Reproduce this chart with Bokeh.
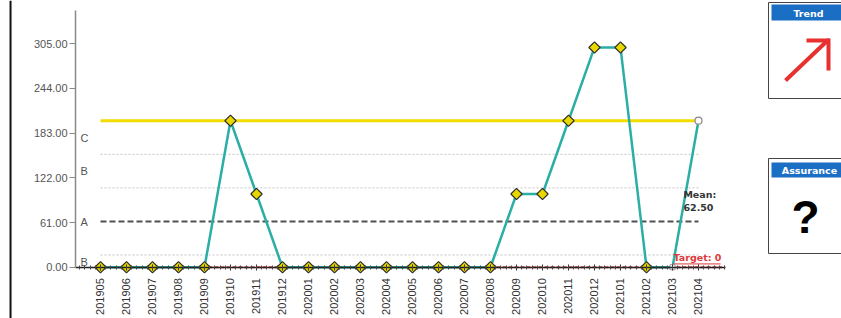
import numpy as np
from bokeh.plotting import figure
from bokeh.models import Range1d, FixedTicker, PrintfTickFormatter, ColumnDataSource, Span
from bokeh.layouts import row
from bokeh.core.properties import value
from bokeh.embed import file_html
from bokeh.resources import INLINE

# ---- data ----
months = ["201905", "201906", "201907", "201908", "201909", "201910", "201911", "201912",
          "202001", "202002", "202003", "202004", "202005", "202006", "202007", "202008",
          "202009", "202010", "202011", "202012", "202101", "202102", "202103", "202104"]
values = [0, 0, 0, 0, 0, 200, 100, 0,
          0, 0, 0, 0, 0, 0, 0, 0,
          100, 100, 200, 300, 300, 0, 0, 200]
y_ticks = [0, 61, 122, 183, 244, 305]
mean_value = 62.50
upper_limit = 200.0
sigma_lines = [154.17, 108.33, 16.67]
target_value = 0
zone_labels = ["C", "B", "A", "B"]
zone_label_values = [177, 131, 62, 7]

x = list(range(len(months)))
x_first, x_last = x[0], x[-1]

# ---- main chart ----
p = figure(width=760, height=318,
           x_range=Range1d(-3.846, 25.385), y_range=Range1d(-70.0, 364.1),
           output_backend="svg", toolbar_location=None, min_border=0)
p.outline_line_color = None
p.grid.visible = False
p.background_fill_color = "white"
p.border_fill_color = "white"

# left frame edge
p.add_layout(Span(location=-3.46, dimension="height", line_color="#111111", line_width=2))

# sigma (dotted) lines
for sv in sigma_lines:
    p.line([x_first, x_last], [sv, sv], line_color="#c4c4c4", line_width=1, line_dash="2 2")
# mean line
p.line([x_first, x_last], [mean_value, mean_value], line_color="#505050", line_width=2, line_dash="6 3")
# upper limit line
p.line([x_first, x_last], [upper_limit, upper_limit], line_color="#f2dc00", line_width=3)
# target line
p.line([x_first, x_last + 0.9], [target_value, target_value], line_color="#e0383a", line_width=2, line_dash="4 2")

src = ColumnDataSource(dict(x=x, y=values))
p.line("x", "y", source=src, line_color="#2aaea5", line_width=2.5)

main_idx = list(range(len(values) - 2))
src_d = ColumnDataSource(dict(x=[x[i] for i in main_idx], y=[values[i] for i in main_idx]))
p.scatter("x", "y", source=src_d, marker="square", angle=np.pi / 4, size=8, fill_color="#e8d800",
          line_color="#2e2e2e", line_width=1.2)
p.scatter([x[-2]], [values[-2]], marker="square", size=5, fill_color="white", line_color="#9a9a9a")
p.scatter([x[-1]], [values[-1]], marker="circle", size=7, fill_color="white", line_color="#8a8a8a", line_width=1.2)

# zone labels
p.text([-0.77] * len(zone_labels), zone_label_values, text=zone_labels,
       text_font=value("Liberation Sans"), text_font_size="11px", text_color="#555555",
       text_baseline="middle", text_align="left")

# mean label
p.text([22.42], [90], text=[f"Mean:\n{mean_value:.2f}"], text_font=value("DejaVu Sans"),
       text_font_size="9.5px", text_font_style="bold", text_color="#333333",
       text_baseline="middle", text_align="left", text_line_height=1.2)
# target label
p.text([22.04], [13.6], text=[f"Target: {target_value}"], text_font=value("DejaVu Sans"),
       text_font_size="9.5px", text_font_style="bold", text_color="#e0383a",
       text_baseline="middle", text_align="left")
p.line([22.04, 23.85], [4.5, 4.5], line_color="#e0383a", line_width=1)

# axes
xa = p.xaxis[0]
xa.fixed_location = 0
xa.bounds = (-0.96, 24.04)
xa.ticker = FixedTicker(ticks=x, minor_ticks=list(np.arange(-0.8, 24.04, 0.2)))
xa.major_label_overrides = {i: m for i, m in enumerate(months)}
xa.major_label_orientation = np.pi / 2
xa.major_label_text_font = "Liberation Sans"
xa.major_label_text_font_size = "11px"
xa.major_label_text_color = "#333333"
xa.major_label_standoff = 8
xa.axis_line_color = "#222222"
xa.axis_line_width = 1.5
xa.major_tick_in = 3
xa.major_tick_out = 3
xa.minor_tick_in = 2
xa.minor_tick_out = 2
xa.major_tick_line_color = "#222222"
xa.minor_tick_line_color = "#444444"

ya = p.yaxis[0]
ya.fixed_location = -0.96
ya.bounds = (0, 350)
ya.ticker = FixedTicker(ticks=y_ticks, minor_ticks=[])
ya.formatter = PrintfTickFormatter(format="%.2f")
ya.major_label_text_font = "Liberation Sans"
ya.major_label_text_font_size = "11px"
ya.major_label_text_color = "#555555"
ya.major_label_standoff = 2
ya.axis_line_color = "#8a8a8a"
ya.axis_line_width = 1.5
ya.major_tick_in = 0
ya.major_tick_out = 6
ya.major_tick_line_color = "#8a8a8a"
ya.minor_tick_line_color = None

# ---- side indicators (coordinates = page pixels) ----
s = figure(width=81, height=318, x_range=Range1d(760, 841), y_range=Range1d(318, 0),
           output_backend="svg", toolbar_location=None, min_border=0)
s.outline_line_color = None
s.grid.visible = False
s.axis.visible = False

# Trend box
s.quad(left=[768], right=[848], top=[2], bottom=[98], fill_color="white", line_color="#444444", line_width=1)
s.quad(left=[771], right=[848], top=[4], bottom=[20], fill_color="#1a6fc4", line_color=None)
s.text([808], [12.5], text=["Trend"], text_font=value("DejaVu Sans"), text_font_size="9.5px",
       text_font_style="bold", text_color="white", text_align="center", text_baseline="middle")
s.segment(x0=[785], y0=[80], x1=[826], y1=[41], line_color="#e8302e", line_width=4)
s.segment(x0=[806], y0=[40], x1=[829], y1=[40], line_color="#e8302e", line_width=4)
s.segment(x0=[828], y0=[38], x1=[828], y1=[70], line_color="#e8302e", line_width=4)

# Assurance box
s.quad(left=[768], right=[848], top=[158], bottom=[253], fill_color="white", line_color="#444444", line_width=1)
s.quad(left=[771], right=[848], top=[162], bottom=[177], fill_color="#1a6fc4", line_color=None)
s.text([809], [169.5], text=["Assurance"], text_font=value("DejaVu Sans"), text_font_size="9.5px",
       text_font_style="bold", text_color="white", text_align="center", text_baseline="middle")
s.text([805], [216], text=["?"], text_font=value("Liberation Sans"), text_font_size="46px",
       text_font_style="bold", text_color="black", text_align="center", text_baseline="middle")

layout = row(p, s)

open("out.html", "w").write(file_html(layout, INLINE))
